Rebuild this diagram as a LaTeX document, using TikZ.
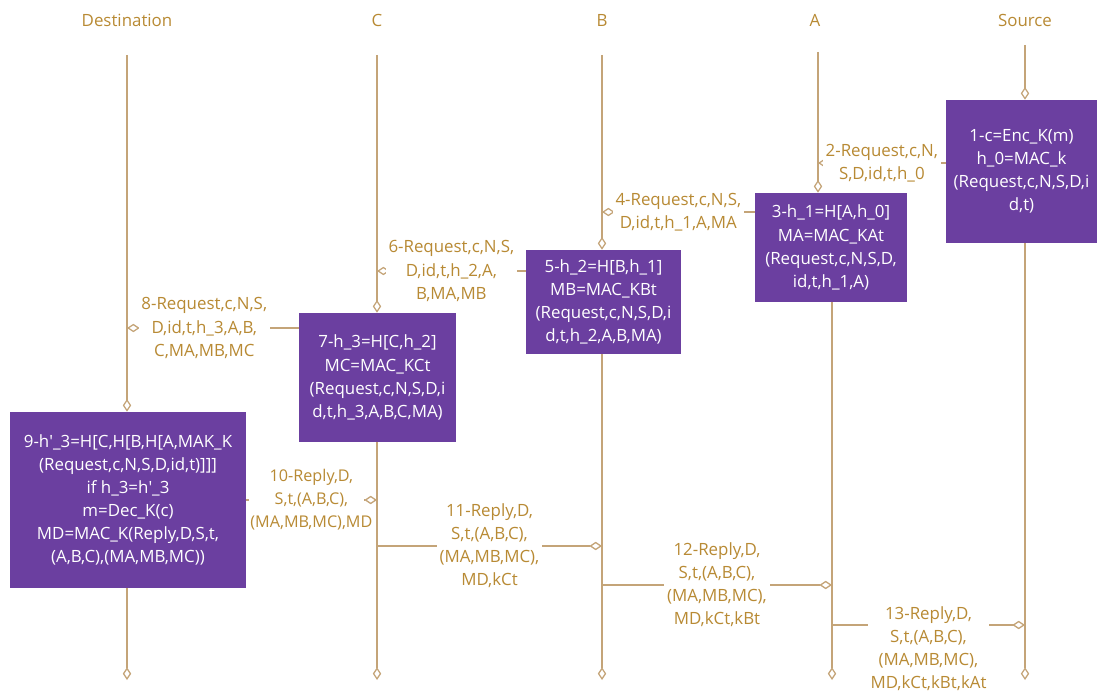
\documentclass[tikz,border=0pt]{standalone}
\usepackage{fontspec}
\setmainfont{Open Sans}
\usetikzlibrary{arrows.meta}
\definecolor{boxpurple}{RGB}{107,63,160}
\definecolor{linetan}{RGB}{196,164,120}
\definecolor{labelbrown}{RGB}{184,138,52}
\newcommand{\pxsize}{0.025cm}
\newcommand{\procbox}[6]{
	\node[procstyle, minimum width=#4*\pxsize, minimum height=#5*\pxsize] (#1) at (#2,#3) {#6};
}
\tikzset{
	procstyle/.style={fill=boxpurple, text=white, align=center, inner sep=2pt, font=\fontsize{12}{16.4}\selectfont},
	lifeline/.style={draw=linetan, line width=0.9pt},
	msg/.style={lifeline, -{Diamond[open, length=9pt, width=6pt]}},
	lbl/.style={fill=white, text=labelbrown, align=center, inner sep=2pt, font=\fontsize{12}{16.4}\selectfont},
	head/.style={text=labelbrown, font=\fontsize{12}{14}\selectfont}
}

\begin{document}
\begin{tikzpicture}[x=\pxsize,y=-\pxsize]
	\useasboundingbox (0,0) rectangle (1103,695);
	\node[head] (dst) at (127,20) {Destination};
	\node[head] (c) at (377,20) {C};
	\node[head] (b) at (602,20) {B};
	\node[head] (a) at (815,20) {A};
	\node[head] (src) at (1025,20) {Source};

	\coordinate (dtop) at (127,55);
	\coordinate (ctop) at (377,55);
	\coordinate (btop) at (602,55);
	\coordinate (atop) at (818,52);
	\coordinate (stop) at (1025,45);
	\coordinate (dbot) at (127,680);
	\coordinate (cbot) at (377,680);
	\coordinate (bbot) at (602,680);
	\coordinate (abot) at (832,680);
	\coordinate (sbot) at (1025,680);

	\procbox{s1}{1021.5}{171.5}{151}{143}{1-c=Enc\_K(m)\\h\_0=MAC\_k\\(Request,c,N,S,D,i\\d,t)}
	\procbox{a3}{831}{247.5}{152}{109}{3-h\_1=H[A,h\_0]\\MA=MAC\_KAt\\(Request,c,N,S,D,\\id,t,h\_1,A)}
	\procbox{b5}{603.5}{302}{155}{104}{5-h\_2=H[B,h\_1]\\MB=MAC\_KBt\\(Request,c,N,S,D,i\\d,t,h\_2,A,B,MA)}
	\procbox{c7}{377.5}{377.5}{157}{129}{7-h\_3=H[C,h\_2]\\MC=MAC\_KCt\\(Request,c,N,S,D,i\\d,t,h\_3,A,B,C,MA)}
	\procbox{d9}{128}{500}{236}{176}{9-h\textquotesingle\_3=H[C,H[B,H[A,MAK\_K\\(Request,c,N,S,D,id,t)]]]\\if h\_3=h\textquotesingle\_3\\m=Dec\_K(c)\\MD=MAC\_K(Reply,D,S,t,\\(A,B,C),(MA,MB,MC))}

	\draw[msg] (dtop) -- (d9.north -| dtop);
	\draw[msg] (ctop) -- (c7.north -| ctop);
	\draw[msg] (btop) -- (b5.north -| btop);
	\draw[msg] (atop) -- (a3.north -| atop);
	\draw[msg] (stop) -- (s1.north -| stop);
	\draw[msg] (d9.south -| dbot) -- (dbot);
	\draw[msg] (c7.south -| cbot) -- (cbot);
	\draw[msg] (b5.south -| bbot) -- (bbot);
	\draw[msg] (a3.south -| abot) -- (abot);
	\draw[msg] (s1.south -| sbot) -- (sbot);

	\coordinate (a2) at (818,163);
	\coordinate (b4) at (602,212);
	\coordinate (c6) at (377,271);
	\coordinate (d8) at (127,328);
	\coordinate (c10) at (377,500);
	\coordinate (c11) at (377,546);
	\coordinate (b11) at (602,546);
	\coordinate (b12) at (602,585);
	\coordinate (a12) at (832,585);
	\coordinate (a13) at (832,625);
	\coordinate (s13) at (1025,625);

	\draw[msg] (s1.west |- a2) -- node[lbl] {2-Request,c,N,\\S,D,id,t,h\_0} (a2);
	\draw[msg] (a3.west |- b4) -- node[lbl] {4-Request,c,N,S,\\D,id,t,h\_1,A,MA} (b4);
	\draw[msg] (b5.west |- c6) -- node[lbl] {6-Request,c,N,S,\\D,id,t,h\_2,A,\\B,MA,MB} (c6);
	\draw[msg] (c7.west |- d8) -- node[lbl, pos=0.55] {8-Request,c,N,S,\\D,id,t,h\_3,A,B,\\C,MA,MB,MC} (d8);
	\draw[lifeline] (d9.east |- c10) -- node[lbl, pos=0, anchor=west, inner xsep=1pt, xshift=1.5pt, font=\fontsize{11.5}{16.4}\selectfont] (m10) {10-Reply,D,\\S,t,(A,B,C),\\(MA,MB,MC),MD} (c10);
	\draw[msg] ([xshift=-9pt]c10) -- (c10);
	\draw[msg] (c11) -- node[lbl] {11-Reply,D,\\S,t,(A,B,C),\\(MA,MB,MC),\\MD,kCt} (b11);
	\draw[msg] (b12) -- node[lbl] {12-Reply,D,\\S,t,(A,B,C),\\(MA,MB,MC),\\MD,kCt,kBt} (a12);
	\draw[msg] (a13) -- node[lbl, yshift=-0.6cm] {13-Reply,D,\\S,t,(A,B,C),\\(MA,MB,MC),\\MD,kCt,kBt,kAt} (s13);
\end{tikzpicture}
\end{document}
